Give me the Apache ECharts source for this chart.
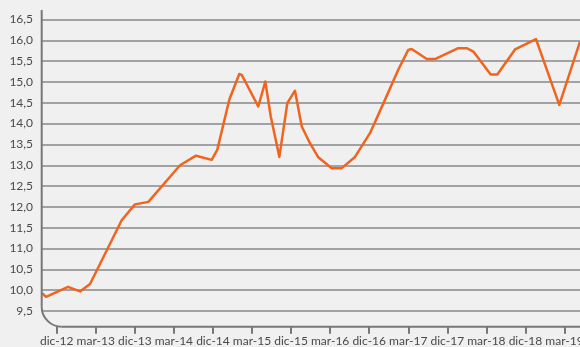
<!DOCTYPE html>
<html>
<head>
<meta charset="utf-8">
<script src="https://cdn.jsdelivr.net/npm/echarts@6/dist/echarts.min.js"></script>
<style>
  html, body { margin: 0; padding: 0; background: #f0f0f0; }
  #chart { width: 580px; height: 347px; }
</style>
</head>
<body>
<div id="chart"></div>
<script>
// Month offsets counted from the "dic-12" tick, one tick every 3 months
const months = [-1.13, -0.82, 0.87, 1.79, 2.56, 4.99, 6.01, 7.04, 9.47, 10.70,
  11.90, 12.33, 13.26, 14.02, 14.21, 15.48, 16.02, 16.44, 17.10, 17.71,
  18.30, 18.82, 19.45, 20.09, 21.12, 21.89, 22.91, 24.06, 25.21, 26.24,
  27.00, 27.26, 28.42, 29.05, 30.84, 31.49, 32.00, 33.33, 33.84, 35.20,
  36.81, 38.60, 40.19];
const values = [9.93, 9.84, 10.08, 9.97, 10.15, 11.68, 12.06, 12.12, 13.00, 13.23,
  13.13, 13.37, 14.58, 15.19, 15.17, 14.41, 15.01, 14.17, 13.20, 14.49,
  14.79, 13.93, 13.53, 13.19, 12.93, 12.93, 13.20, 13.77, 14.57, 15.30,
  15.77, 15.79, 15.55, 15.55, 15.81, 15.81, 15.73, 15.18, 15.18, 15.78,
  16.03, 14.45, 15.97];

const tickLabels = ['dic-12', 'mar-13', 'dic-13', 'mar-14', 'dic-14', 'mar-15', 'dic-15',
  'mar-16', 'dic-16', 'mar-17', 'dic-17', 'mar-18', 'dic-18', 'mar-19'];
const tickMonths = tickLabels.map((_, i) => i * 3);

const yMin = 9.5, yMax = 16.5, yStep = 0.5;

const W = 580, H = 347;
const grid = { left: 42, top: 19.5, right: 0, bottom: 36 };
const axisY = 326.7;           // baseline of the rounded axis frame
const frameTop = 10;
const cornerR = 20;
const frameX = 41.7;
const frameStyle = { stroke: '#777', lineWidth: 2, fill: null };

const chart = echarts.init(document.getElementById('chart'), null, { renderer: 'canvas' });

const pts = months.map((m, i) => [m, values[i]]);

chart.setOption({
  backgroundColor: '#f0f0f0',
  animation: false,
  textStyle: { fontFamily: 'Lato' },
  grid: {
    left: grid.left, top: grid.top, right: grid.right, bottom: grid.bottom,
    containLabel: false, outerBoundsMode: 'none'
  },
  xAxis: {
    type: 'value',
    min: months[0],
    max: months[months.length - 1],
    offset: axisY - (H - grid.bottom),
    axisLine: { show: false },
    axisTick: {
      show: true, customValues: tickMonths, length: 7,
      lineStyle: { color: '#777', width: 2 }
    },
    axisLabel: {
      customValues: tickMonths,
      margin: 8,
      fontSize: 12,
      fontFamily: 'Lato',
      color: '#4a4a4a',
      hideOverlap: false,
      formatter: v => tickLabels[Math.round(v / 3)] || ''
    },
    splitLine: { show: false }
  },
  yAxis: {
    type: 'value',
    min: yMin, max: yMax, interval: yStep,
    axisLine: { show: false },
    axisTick: { show: false },
    axisLabel: {
      margin: 9,
      fontSize: 12,
      fontFamily: 'Lato',
      color: '#4a4a4a',
      formatter: v => v.toFixed(1).replace('.', ',')
    },
    splitLine: { show: true, lineStyle: { color: '#888', width: 1.5 } }
  },
  series: [{
    type: 'line',
    data: pts,
    symbol: 'none',
    lineStyle: { color: '#f0641e', width: 2.5, join: 'round' },
    z: 3
  }],
  // Axis frame: vertical line, rounded corner, horizontal baseline
  graphic: [
    {
      type: 'line', z: 10, silent: true,
      shape: { x1: frameX, y1: frameTop, x2: frameX, y2: axisY - cornerR },
      style: frameStyle
    },
    {
      type: 'arc', z: 10, silent: true,
      shape: {
        cx: frameX + cornerR, cy: axisY - cornerR, r: cornerR,
        startAngle: Math.PI / 2, endAngle: Math.PI, clockwise: true
      },
      style: frameStyle
    },
    {
      type: 'line', z: 10, silent: true,
      shape: { x1: frameX + cornerR, y1: axisY, x2: W, y2: axisY },
      style: frameStyle
    }
  ]
});
</script>
</body>
</html>
